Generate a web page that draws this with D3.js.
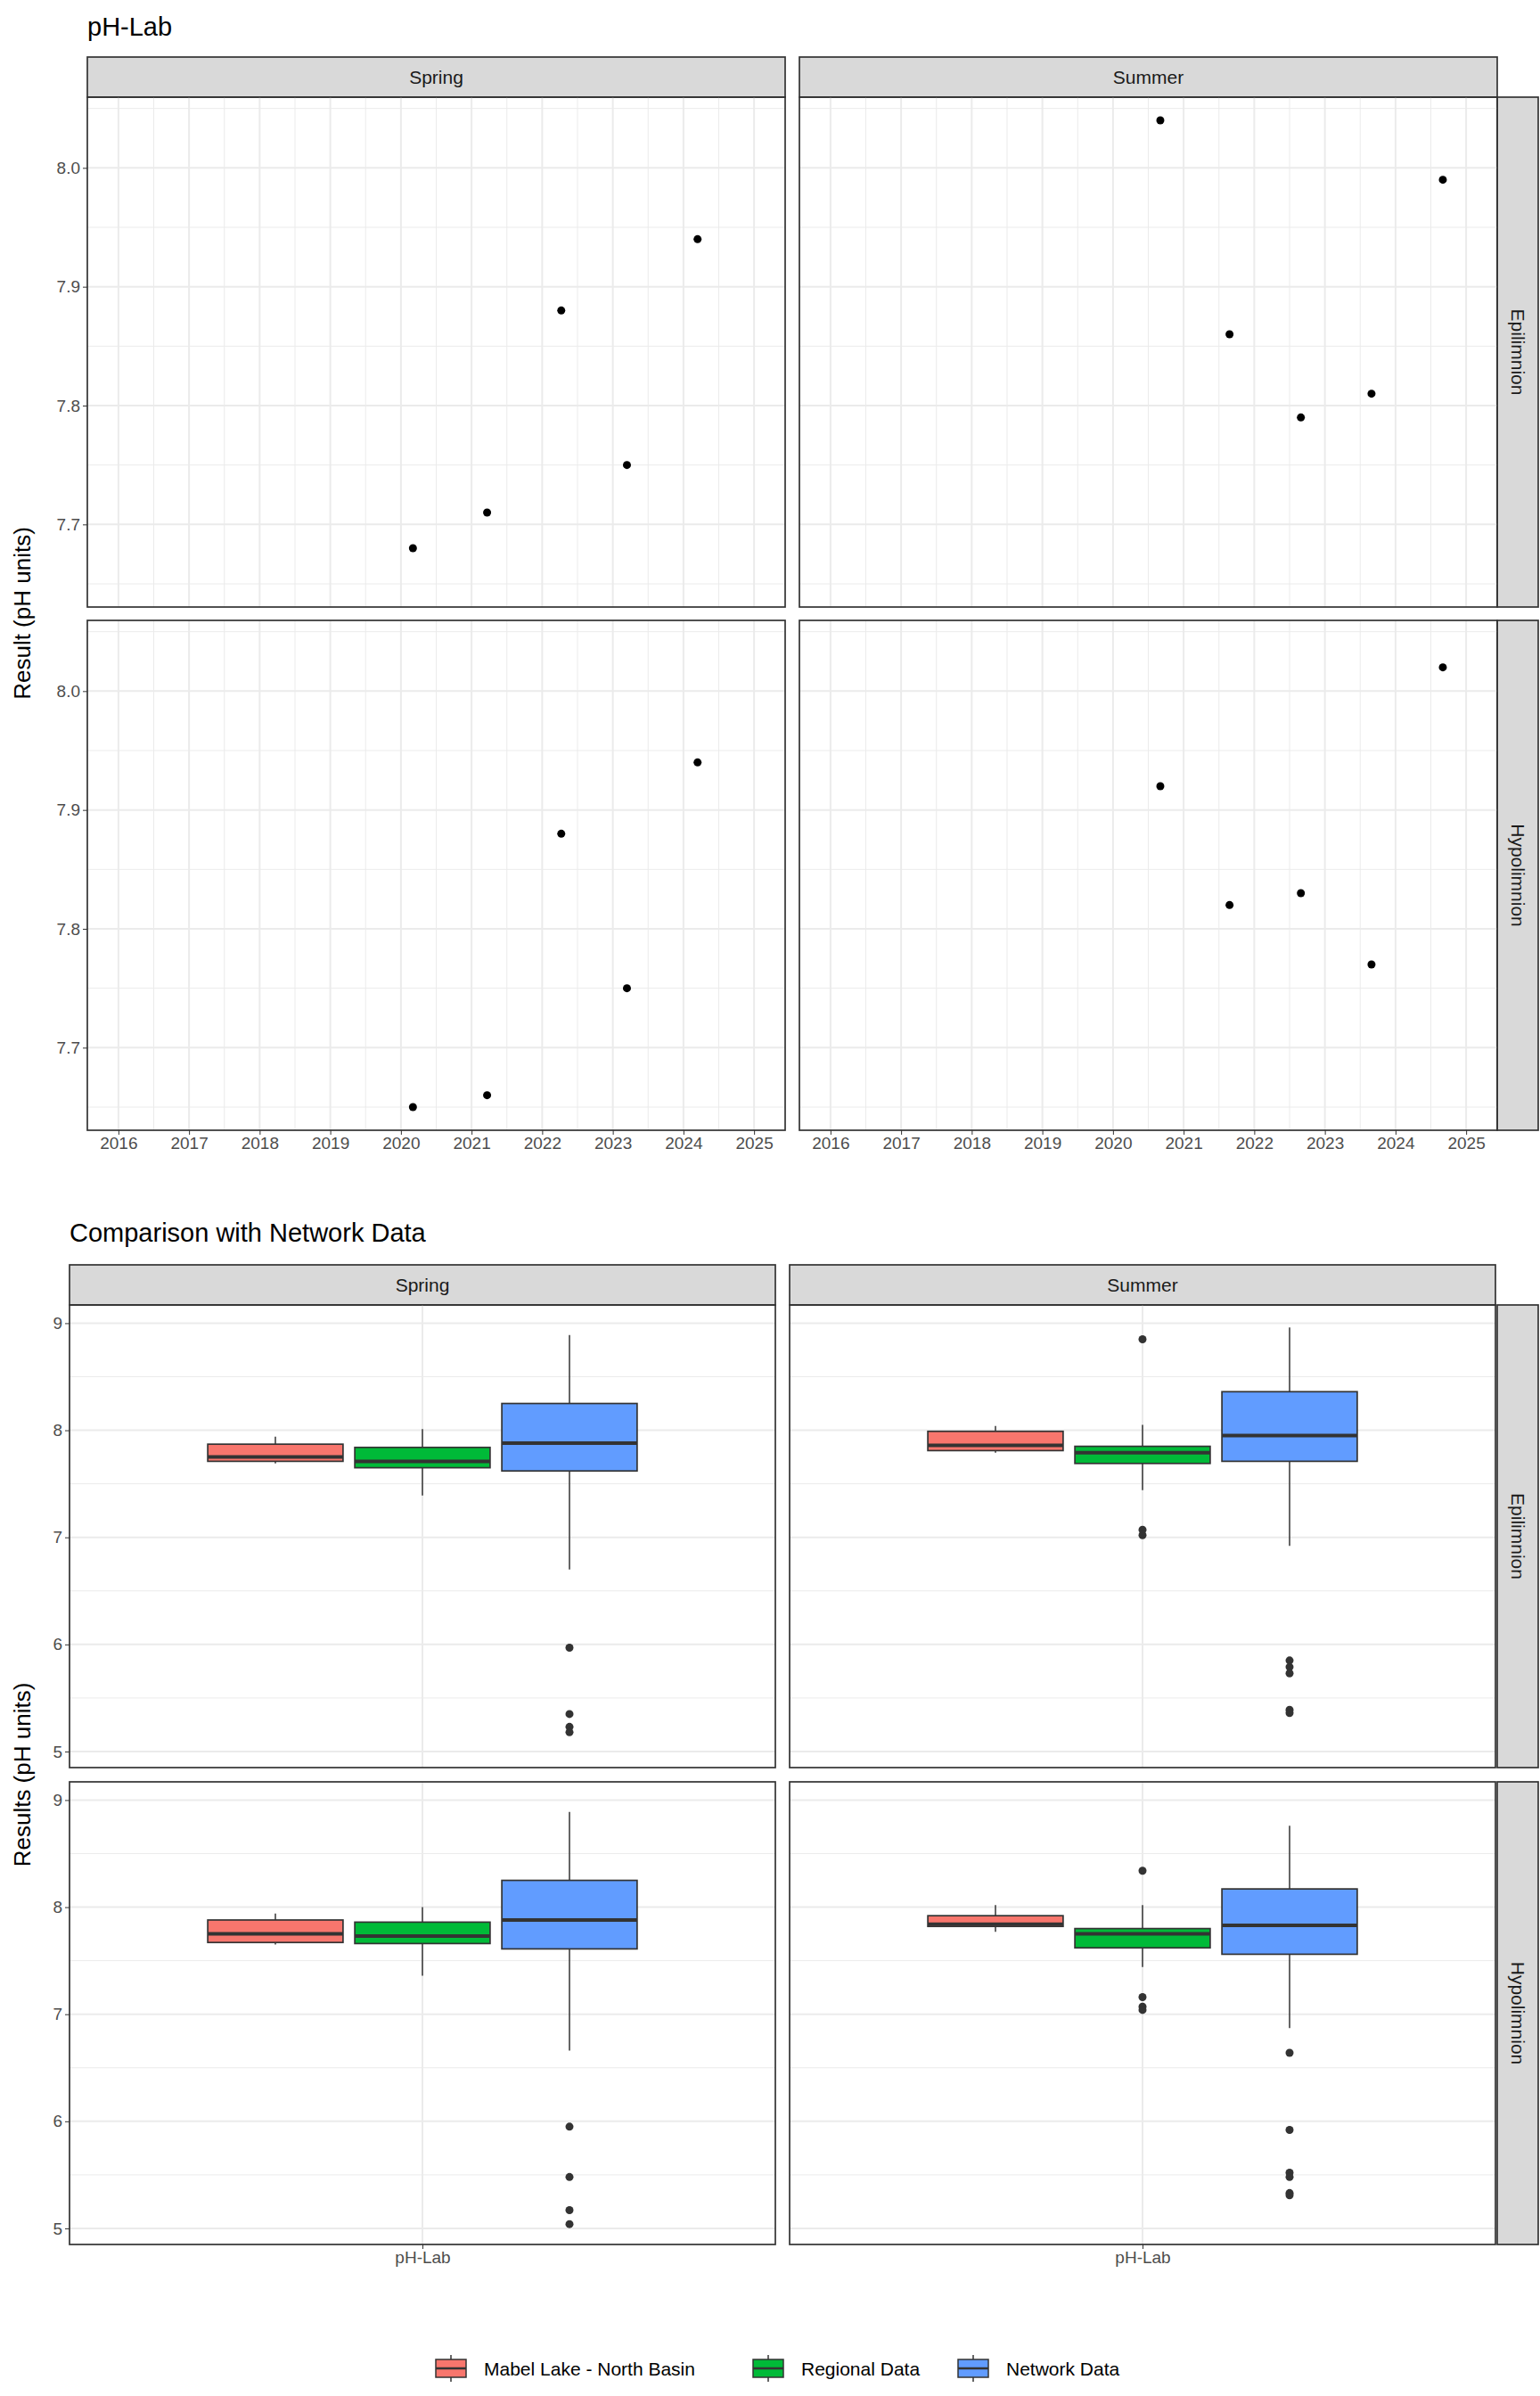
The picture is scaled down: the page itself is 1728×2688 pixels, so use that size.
<!DOCTYPE html>
<html><head><meta charset="utf-8">
<script src="https://cdn.jsdelivr.net/npm/d3@7"></script>
<style>body{margin:0;background:#fff}text{font-family:"Liberation Sans",Arial,sans-serif}</style>
</head><body>
<script>
// ---- data ----
const seasons = ['Spring', 'Summer'];
const layers = ['Epilimnion', 'Hypolimnion'];
const yearTicks = [2016, 2017, 2018, 2019, 2020, 2021, 2022, 2023, 2024, 2025];
const springDates = [2020.17, 2021.22, 2022.27, 2023.2, 2024.2];
const summerDates = [2020.67, 2021.65, 2022.66, 2023.66, 2024.67];
const springEpi = [7.68, 7.71, 7.88, 7.75, 7.94];
const summerEpi = [8.04, 7.86, 7.79, 7.81, 7.99];
const springHypo = [7.65, 7.66, 7.88, 7.75, 7.94];
const summerHypo = [7.92, 7.82, 7.83, 7.77, 8.02];
const phTicks = [7.7, 7.8, 7.9, 8.0];

const groups = ['Mabel Lake - North Basin', 'Regional Data', 'Network Data'];
const groupColors = ['#F8766D', '#00BA38', '#619CFF'];
// [lowWhisker, q1, median, q3, highWhisker]
const boxSpringEpi = [[7.69, 7.71, 7.75, 7.87, 7.94], [7.39, 7.65, 7.71, 7.84, 8.01], [6.70, 7.62, 7.88, 8.25, 8.89]];
const boxSummerEpi = [[7.79, 7.81, 7.86, 7.99, 8.04], [7.44, 7.69, 7.79, 7.85, 8.05], [6.92, 7.71, 7.95, 8.36, 8.96]];
const boxSpringHypo = [[7.65, 7.67, 7.75, 7.88, 7.94], [7.36, 7.66, 7.73, 7.86, 8.00], [6.66, 7.61, 7.88, 8.25, 8.89]];
const boxSummerHypo = [[7.77, 7.82, 7.84, 7.92, 8.02], [7.44, 7.62, 7.75, 7.80, 8.02], [6.87, 7.56, 7.83, 8.17, 8.76]];
const outSpringEpi = [[], [], [5.97, 5.35, 5.23, 5.18]];
const outSummerEpi = [[], [8.85, 7.07, 7.02], [5.85, 5.79, 5.73, 5.39, 5.36]];
const outSpringHypo = [[], [], [5.95, 5.48, 5.17, 5.04]];
const outSummerHypo = [[], [8.34, 7.16, 7.07, 7.04], [6.64, 5.92, 5.52, 5.48, 5.33, 5.31]];
const resTicks = [5, 6, 7, 8, 9];

const svg = d3.select('body').append('svg').attr('width', 1728).attr('height', 2688);

// ---- shared helpers ----
function strip(x, y, w, h, label, vertical) {
    svg.append('rect').attr('x', x).attr('y', y).attr('width', w).attr('height', h)
        .attr('fill', '#D9D9D9').attr('stroke', '#333').attr('stroke-width', 1.7);
    const t = svg.append('text').attr('font-size', 21).attr('fill', '#1A1A1A')
        .attr('text-anchor', 'middle').attr('dominant-baseline', 'central').text(label);
    if (vertical) t.attr('transform', `translate(${x + w / 2},${y + h / 2}) rotate(90)`);
    else t.attr('x', x + w / 2).attr('y', y + h / 2);
}
function panelFrame(x, y, w, h) {
    svg.append('rect').attr('x', x).attr('y', y).attr('width', w).attr('height', h)
        .attr('fill', 'none').attr('stroke', '#333').attr('stroke-width', 1.7);
}
function yAxis(g, yScale, ticks, fmt) {
    const a = g.append('g').call(d3.axisLeft(yScale).tickValues(ticks).tickSize(5).tickFormat(fmt));
    a.select('.domain').remove();
    a.selectAll('line').attr('stroke', '#333');
    a.selectAll('text').attr('font-size', 19).attr('fill', '#4D4D4D').attr('font-family', 'Liberation Sans');
}

// ---- top: pH-Lab time series ----
svg.append('text').attr('x', 98).attr('y', 40).attr('font-size', 29).text('pH-Lab');
const tCols = [98, 897], tW = 783, tRows = [109, 696], tH = 572;
const tx = d3.scaleLinear().domain([2015.56, 2025.44]);
const ty = d3.scaleLinear().domain([7.6305, 8.0595]);
const tData = [[springEpi, summerEpi], [springHypo, summerHypo]];
const tDates = [springDates, summerDates];
seasons.forEach((s, c) => strip(tCols[c], 64, tW, 45, s));
layers.forEach((l, r) => strip(1680, tRows[r], 46, tH, l, true));
tRows.forEach((py, r) => {
    tCols.forEach((px, c) => {
        const x = tx.copy().range([px, px + tW]);
        const y = ty.copy().range([py + tH, py]);
        const g = svg.append('g');
        d3.range(2015.5, 2025.6, 0.5).forEach(v => {
            if (v < 2015.56 || v > 2025.44) return;
            g.append('line').attr('x1', x(v)).attr('x2', x(v)).attr('y1', py).attr('y2', py + tH)
                .attr('stroke', '#EBEBEB').attr('stroke-width', Number.isInteger(v) ? 2 : 1);
        });
        d3.range(7.65, 8.06, 0.05).forEach(v => {
            const major = Math.abs(v * 10 - Math.round(v * 10)) < 1e-6;
            g.append('line').attr('x1', px).attr('x2', px + tW).attr('y1', y(v)).attr('y2', y(v))
                .attr('stroke', '#EBEBEB').attr('stroke-width', major ? 2 : 1);
        });
        g.selectAll('circle').data(tData[r][c]).join('circle')
            .attr('cx', (d, i) => x(tDates[c][i])).attr('cy', d => y(d)).attr('r', 4.5).attr('fill', '#000');
        panelFrame(px, py, tW, tH);
        if (c === 0) yAxis(svg.append('g').attr('transform', `translate(${px},0)`), y, phTicks, d3.format('.1f'));
        if (r === 1) {
            const a = svg.append('g').attr('transform', `translate(0,${py + tH})`)
                .call(d3.axisBottom(x).tickValues(yearTicks).tickSize(5).tickFormat(d3.format('d')));
            a.select('.domain').remove();
            a.selectAll('line').attr('stroke', '#333');
            a.selectAll('text').attr('font-size', 19).attr('fill', '#4D4D4D').attr('font-family', 'Liberation Sans');
        }
    });
});
svg.append('text').attr('transform', 'translate(34,688) rotate(-90)').attr('text-anchor', 'middle')
    .attr('font-size', 26).text('Result (pH units)');

// ---- bottom: comparison boxplots ----
svg.append('text').attr('x', 78).attr('y', 1393).attr('font-size', 29).text('Comparison with Network Data');
const bCols = [78, 886], bW = 792, bRows = [1464, 1999], bH = 519;
const by = d3.scaleLinear().domain([4.85, 9.17]);
const bx = d3.scaleLinear().domain([0.4, 1.6]);
const boxes = [[boxSpringEpi, boxSummerEpi], [boxSpringHypo, boxSummerHypo]];
const outs = [[outSpringEpi, outSummerEpi], [outSpringHypo, outSummerHypo]];
const offsets = [-0.25, 0, 0.25], boxW = 0.23;
seasons.forEach((s, c) => strip(bCols[c], 1419, bW, 45, s));
layers.forEach((l, r) => strip(1680, bRows[r], 46, bH, l, true));
bRows.forEach((py, r) => {
    bCols.forEach((px, c) => {
        const x = bx.copy().range([px, px + bW]);
        const y = by.copy().range([py + bH, py]);
        const g = svg.append('g');
        d3.range(5, 9.01, 0.5).forEach(v => {
            g.append('line').attr('x1', px).attr('x2', px + bW).attr('y1', y(v)).attr('y2', y(v))
                .attr('stroke', '#EBEBEB').attr('stroke-width', Number.isInteger(v) ? 2 : 1);
        });
        g.append('line').attr('x1', x(1)).attr('x2', x(1)).attr('y1', py).attr('y2', py + bH)
            .attr('stroke', '#EBEBEB').attr('stroke-width', 2);
        boxes[r][c].forEach((b, i) => {
            const cx = x(1 + offsets[i]);
            const hw = x(1 + boxW / 2) - x(1);
            g.append('line').attr('x1', cx).attr('x2', cx).attr('y1', y(b[0])).attr('y2', y(b[4]))
                .attr('stroke', '#333').attr('stroke-width', 1.5);
            g.append('rect').attr('x', cx - hw).attr('width', hw * 2).attr('y', y(b[3])).attr('height', y(b[1]) - y(b[3]))
                .attr('fill', groupColors[i]).attr('stroke', '#333').attr('stroke-width', 1.7);
            g.append('line').attr('x1', cx - hw).attr('x2', cx + hw).attr('y1', y(b[2])).attr('y2', y(b[2]))
                .attr('stroke', '#333').attr('stroke-width', 4);
            g.selectAll(null).data(outs[r][c][i]).join('circle')
                .attr('cx', cx).attr('cy', d => y(d)).attr('r', 4.5).attr('fill', '#333');
        });
        panelFrame(px, py, bW, bH);
        if (c === 0) yAxis(svg.append('g').attr('transform', `translate(${px},0)`), y, resTicks, d3.format('d'));
        if (r === 1) {
            const a = svg.append('g').attr('transform', `translate(0,${py + bH})`)
                .call(d3.axisBottom(x).tickValues([1]).tickSize(5).tickFormat(() => 'pH-Lab'));
            a.select('.domain').remove();
            a.selectAll('line').attr('stroke', '#333');
            a.selectAll('text').attr('font-size', 19).attr('fill', '#4D4D4D').attr('font-family', 'Liberation Sans');
        }
    });
});
svg.append('text').attr('transform', 'translate(34,1991) rotate(-90)').attr('text-anchor', 'middle')
    .attr('font-size', 26).text('Results (pH units)');

// ---- legend ----
const legendX = [489, 845, 1075];
groups.forEach((gname, i) => {
    const lg = svg.append('g').attr('transform', `translate(${legendX[i]},2657)`);
    lg.append('line').attr('x1', 17).attr('x2', 17).attr('y1', -15).attr('y2', 15).attr('stroke', '#333').attr('stroke-width', 1.5);
    lg.append('rect').attr('x', 0).attr('y', -10).attr('width', 34).attr('height', 20)
        .attr('fill', groupColors[i]).attr('stroke', '#333').attr('stroke-width', 1.5);
    lg.append('line').attr('x1', 0).attr('x2', 34).attr('y1', 0).attr('y2', 0).attr('stroke', '#333').attr('stroke-width', 2.5);
    lg.append('text').attr('x', 54).attr('y', 0).attr('dominant-baseline', 'central')
        .attr('font-size', 21).text(gname);
});
</script>
</body></html>
